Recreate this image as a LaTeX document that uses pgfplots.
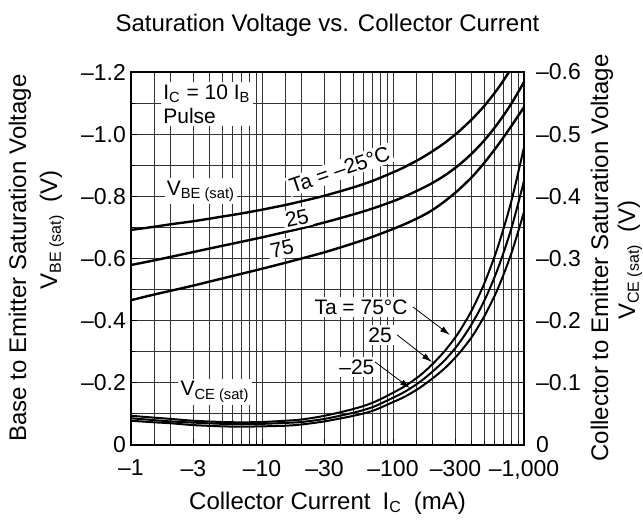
\documentclass[border=0pt]{standalone}
\usepackage{fontspec}
\setmainfont{Liberation Sans}
\usepackage{pgfplots}
\pgfplotsset{compat=1.18}
\usetikzlibrary{arrows.meta}

\tikzset{ann/.style={fill=white, inner sep=1.2pt, font=\fontsize{10.5}{12}\selectfont}}

\begin{document}
\begin{tikzpicture}[font=\fontsize{11.5}{13}\selectfont]
\useasboundingbox (-65.5pt,-42.5pt) rectangle (256pt,222.5pt);
\begin{axis}[
  at={(0pt,0pt)}, anchor=south west,
  width=196.5pt, height=186.5pt, scale only axis,
  xmode=log, xmin=1, xmax=1000,
  axis line style={line width=1pt},
  tick style={black, line width=0.5pt},
  tick align=inside,
  major tick length=3pt, minor tick length=2pt,
  ymin=0, ymax=1.2,
  xtick={1,3,10,30,100,300,1000},
  xticklabels={–1,–3,–10,–30,–100,–300,{–1,000}},
  minor xtick={1.5,2,4,5,6,7,8,9,15,20,40,50,60,70,80,90,150,200,400,500,600,700,800,900},
  ytick={0,0.2,0.4,0.6,0.8,1.0,1.2},
  yticklabels={0,–0.2,–0.4,–0.6,–0.8,–1.0,–1.2},
  minor ytick={0.1,0.3,0.5,0.7,0.9,1.1},
  xtick pos=bottom, ytick pos=left,
  grid=both,
  major grid style={black!80, line width=0.5pt},
  minor grid style={black!80, line width=0.5pt},
  xticklabel style={yshift=-4pt},
  yticklabel style={xshift=1pt},
]
% V_BE(sat), Ta = -25 C
\addplot[black, line width=1.2pt, smooth] coordinates {
  (1,0.692) (1.5,0.702) (2,0.710) (3,0.720) (5,0.735) (7,0.745) (10,0.757)
  (15,0.772) (20,0.784) (30,0.802) (50,0.829) (70,0.850) (100,0.877)
  (125,0.896) (160,0.920) (200,0.945) (250,0.973) (315,1.007) (400,1.048)
  (500,1.092) (630,1.146) (800,1.212) (1000,1.286)};
% V_BE(sat), Ta = 25 C
\addplot[black, line width=1.2pt, smooth] coordinates {
  (1,0.579) (1.5,0.594) (2,0.605) (3,0.621) (5,0.641) (7,0.654) (10,0.668)
  (15,0.685) (20,0.697) (30,0.716) (50,0.742) (70,0.761) (100,0.784)
  (125,0.801) (160,0.822) (200,0.843) (250,0.868) (315,0.899) (400,0.938)
  (500,0.981) (630,1.034) (800,1.098) (1000,1.168)};
% V_BE(sat), Ta = 75 C
\addplot[black, line width=1.2pt, smooth] coordinates {
  (1,0.466) (1.5,0.484) (2,0.496) (3,0.513) (5,0.536) (7,0.551) (10,0.567)
  (15,0.586) (20,0.600) (30,0.620) (50,0.649) (70,0.670) (100,0.695)
  (125,0.712) (160,0.733) (200,0.756) (250,0.785) (315,0.820) (400,0.862)
  (500,0.909) (630,0.964) (800,1.026) (1000,1.087)};

\node[ann, align=left] at (axis cs:3.8,1.097) {I\textsubscript{C} = 10 I\textsubscript{B}\\Pulse};
\node[ann] at (axis cs:3.42,0.817) {V\textsubscript{BE (sat)}};
\node[ann, rotate=19] at (axis cs:39.2,0.885) {Ta = –25°C};
\node[ann, rotate=12] at (axis cs:18.5,0.730) {25};
\node[ann, rotate=12] at (axis cs:14.2,0.631) {75};
\node[ann] at (axis cs:57,0.444) {Ta = 75°C};
\node[ann] at (axis cs:79.7,0.354) {25};
\node[ann] at (axis cs:53,0.251) {–25};
\node[ann] at (axis cs:4.38,0.171) {V\textsubscript{CE (sat)}};
\draw[-{Latex[length=5pt,width=3pt]}, line width=0.4pt] (axis cs:142,0.444) -- (axis cs:272,0.354);
\draw[-{Latex[length=5pt,width=3pt]}, line width=0.4pt] (axis cs:107.6,0.354) -- (axis cs:198,0.267);
\draw[-{Latex[length=5pt,width=3pt]}, line width=0.4pt] (axis cs:73,0.267) -- (axis cs:134.6,0.183);
\end{axis}

\begin{axis}[
  at={(0pt,0pt)}, anchor=south west,
  width=196.5pt, height=186.5pt, scale only axis,
  xmode=log, xmin=1, xmax=1000,
  axis line style={line width=1pt},
  tick style={black, line width=0.5pt},
  tick align=inside,
  major tick length=3pt, minor tick length=2pt,
  ymin=0, ymax=0.6,
  axis x line=none, axis y line*=right,
  ytick={0,0.1,0.2,0.3,0.4,0.5,0.6},
  yticklabels={0,–0.1,–0.2,–0.3,–0.4,–0.5,–0.6},
  yticklabel style={xshift=2.5pt},
]
% V_CE(sat), Ta = 75 C
\addplot[black, line width=1pt, smooth] coordinates {
  (1,0.047) (1.5,0.044) (2,0.042) (3,0.039) (5,0.037) (7,0.0365) (10,0.037)
  (15,0.039) (20,0.041) (30,0.047) (50,0.058) (70,0.068) (100,0.084)
  (125,0.0955) (160,0.1115) (200,0.130) (250,0.152) (315,0.180) (400,0.217)
  (500,0.261) (630,0.318) (800,0.392) (1000,0.479)};
% V_CE(sat), Ta = 25 C
\addplot[black, line width=1pt, smooth] coordinates {
  (1,0.043) (1.5,0.040) (2,0.038) (3,0.036) (5,0.034) (7,0.0335) (10,0.034)
  (15,0.0355) (20,0.037) (30,0.042) (50,0.052) (70,0.061) (100,0.076)
  (125,0.0865) (160,0.1013) (200,0.118) (250,0.137) (315,0.162) (400,0.195)
  (500,0.233) (630,0.283) (800,0.348) (1000,0.425)};
% V_CE(sat), Ta = -25 C
\addplot[black, line width=1pt, smooth] coordinates {
  (1,0.039) (1.5,0.0365) (2,0.035) (3,0.032) (5,0.030) (7,0.0295) (10,0.030)
  (15,0.031) (20,0.033) (30,0.038) (50,0.047) (70,0.055) (100,0.069)
  (125,0.0785) (160,0.092) (200,0.107) (250,0.124) (315,0.146) (400,0.174)
  (500,0.208) (630,0.251) (800,0.308) (1000,0.375)};
\end{axis}

\node[font=\fontsize{12}{14}\selectfont] at (98.25pt,210pt) {Saturation Voltage vs. Collector Current};
\node[font=\fontsize{12}{14}\selectfont] at (98.25pt,-29pt) {Collector Current\enspace I\textsubscript{C}\enspace(mA)};
\node[rotate=90, font=\fontsize{12}{14}\selectfont] at (-55.5pt,93.5pt) {Base to Emitter Saturation Voltage};
\node[rotate=90, font=\fontsize{12}{14}\selectfont] at (-39.5pt,107.5pt) {V\textsubscript{BE (sat)}\enspace(V)};
\node[rotate=90, font=\fontsize{12}{14}\selectfont] at (235.5pt,93.5pt) {Collector to Emitter Saturation Voltage};
\node[rotate=90, font=\fontsize{12}{14}\selectfont] at (249.5pt,92.5pt) {V\textsubscript{CE (sat)}\enspace(V)};
\end{tikzpicture}
\end{document}
